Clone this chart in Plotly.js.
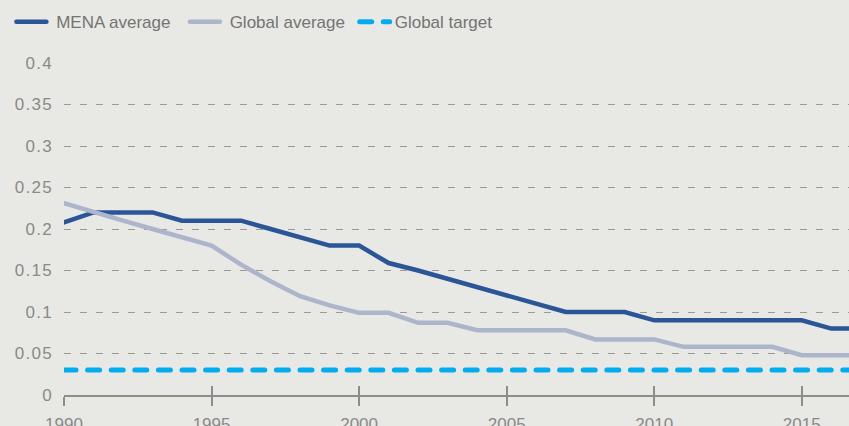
<!DOCTYPE html>
<html>
<head>
<meta charset="utf-8">
<script src="https://cdn.plot.ly/plotly-3.0.1.min.js"></script>
<style>
  html, body { margin: 0; padding: 0; background: #e8e8e4; }
  #chart { width: 849px; height: 426px; }
  .js-line { stroke-linecap: round; }
  .ytick text { letter-spacing: 1.3px; }
</style>
</head>
<body>
<div id="chart"></div>
<script>
// years on the x axis
let years = [1990, 1991, 1992, 1993, 1994, 1995, 1996, 1997, 1998, 1999,
             2000, 2001, 2002, 2003, 2004, 2005, 2006, 2007, 2008, 2009,
             2010, 2011, 2012, 2013, 2014, 2015, 2016, 2017];
// values
let menaAverage = [0.208, 0.22, 0.22, 0.22, 0.21, 0.21, 0.21, 0.20, 0.19, 0.18,
                   0.18, 0.159, 0.15, 0.14, 0.13, 0.12, 0.11, 0.10, 0.10, 0.10,
                   0.09, 0.09, 0.09, 0.09, 0.09, 0.09, 0.08, 0.08];
let globalAverage = [0.231, 0.22, 0.21, 0.20, 0.19, 0.18, 0.157, 0.137, 0.119, 0.108,
                     0.099, 0.099, 0.087, 0.087, 0.078, 0.078, 0.078, 0.078, 0.067, 0.067,
                     0.067, 0.058, 0.058, 0.058, 0.058, 0.048, 0.048, 0.048];
let globalTarget = years.map(() => 0.03);

let yTicks = [0, 0.05, 0.1, 0.15, 0.2, 0.25, 0.3, 0.35, 0.4];
let yTickText = ["0", "0.05", "0.1", "0.15", "0.2", "0.25", "0.3", "0.35", "0.4"];
let xTicks = [1990, 1995, 2000, 2005, 2010, 2015];

// nbsp padding to space the legend items like the original
let nb = "\u00a0";
let mena = {
  x: years, y: menaAverage, name: nb + "MENA average" + nb + nb,
  type: "scatter", mode: "lines",
  line: {color: "#2a5597", width: 4.5}
};
let global = {
  x: years, y: globalAverage, name: nb + "Global average" + nb,
  type: "scatter", mode: "lines",
  line: {color: "#adb5cb", width: 4.5}
};
let target = {
  x: years, y: globalTarget, name: "Global target",
  type: "scatter", mode: "lines",
  line: {color: "#00aeef", width: 5, dash: "12px,11.6px"}
};
// invisible trace so the overlay axis (inside ticks) gets drawn
let tickHelper = {
  x: years, y: globalTarget, xaxis: "x2", showlegend: false,
  type: "scatter", mode: "lines", line: {width: 0}, hoverinfo: "skip"
};

let layout = {
  width: 849, height: 426,
  paper_bgcolor: "#e8e8e4", plot_bgcolor: "#e8e8e4",
  margin: {l: 64, r: 0, t: 63, b: 31},
  font: {family: "Liberation Sans, Arial, sans-serif", color: "#8a8a8a", size: 17},
  showlegend: true,
  legend: {
    orientation: "h", x: -0.067, xanchor: "left", y: 1.123, yanchor: "middle",
    font: {size: 17, color: "#747474"}, bgcolor: "rgba(0,0,0,0)",
    itemwidth: 30, tracegroupgap: 0, traceorder: "normal"
  },
  xaxis: {
    range: [1990, 2016.6], tickvals: xTicks, automargin: false,
    ticks: "outside", ticklen: 9, tickwidth: 2, tickcolor: "#8c8c8c",
    showline: true, linecolor: "#8c8c8c", linewidth: 2,
    showgrid: false, zeroline: false, ticklabelstandoff: 4,
    tickfont: {size: 17, color: "#8a8a8a"}
  },
  xaxis2: {
    range: [1990, 2016.6], tickvals: xTicks, overlaying: "x", anchor: "y",
    ticks: "inside", ticklen: 9, tickwidth: 2, tickcolor: "#8c8c8c",
    showticklabels: false, showgrid: false, zeroline: false, showline: false
  },
  yaxis: {
    range: [0, 0.4], tickvals: yTicks, ticktext: yTickText, automargin: false,
    showgrid: true, gridcolor: "#9a9a9a", gridwidth: 1, griddash: "7px,9px",
    zeroline: false, ticks: "", ticklabelstandoff: 10,
    tickfont: {size: 17, color: "#8a8a8a"}
  }
};

Plotly.newPlot("chart", [mena, global, target, tickHelper], layout, {staticPlot: true});
</script>
</body>
</html>
